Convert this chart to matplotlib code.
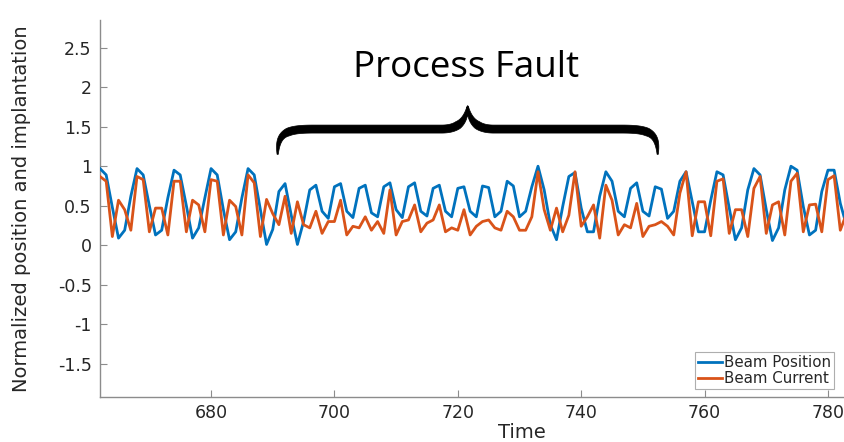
import numpy as np
import matplotlib
matplotlib.use("Agg")
import matplotlib.pyplot as plt
from matplotlib.patches import Polygon
from matplotlib.transforms import IdentityTransform

plt.rcParams['axes.unicode_minus'] = False

# ---------------- data ----------------
time = np.arange(662, 784)

beam_position = [
    0.97, 0.89, 0.48, 0.09, 0.19, 0.62,          # 662-667
    0.97, 0.89, 0.50, 0.13, 0.19, 0.60,          # 668-673
    0.95, 0.89, 0.50, 0.09, 0.22, 0.60,          # 674-679
    0.97, 0.89, 0.45, 0.07, 0.17, 0.60,          # 680-685
    0.97, 0.89, 0.45, 0.01, 0.20, 0.68,          # 686-691
    0.78, 0.38, 0.01, 0.30, 0.70, 0.76,          # 692-697
    0.43, 0.34, 0.74, 0.78, 0.43, 0.35,          # 698-703
    0.72, 0.76, 0.41, 0.36, 0.74, 0.79,          # 704-709
    0.45, 0.35, 0.74, 0.79, 0.43, 0.37,          # 710-715
    0.72, 0.76, 0.43, 0.36, 0.72, 0.74,          # 716-721
    0.43, 0.36, 0.75, 0.73, 0.36, 0.43,          # 722-727
    0.81, 0.75, 0.36, 0.43, 0.74, 1.00,          # 728-733
    0.70, 0.26, 0.07, 0.49, 0.87, 0.92,          # 734-739
    0.47, 0.17, 0.17, 0.62, 0.93, 0.81,          # 740-745
    0.43, 0.36, 0.72, 0.79, 0.43, 0.37,          # 746-751
    0.74, 0.71, 0.34, 0.43, 0.81, 0.93,          # 752-757
    0.55, 0.17, 0.17, 0.57, 0.93, 0.89,          # 758-763
    0.47, 0.07, 0.22, 0.70, 0.97, 0.89,          # 764-769
    0.45, 0.06, 0.22, 0.70, 1.00, 0.95,          # 770-775
    0.49, 0.13, 0.19, 0.68, 0.95, 0.95,          # 776-781
    0.53, 0.25,                                  # 782-783
]

beam_current = [
    0.87, 0.81, 0.11, 0.57, 0.45, 0.19,          # 662-667
    0.87, 0.83, 0.17, 0.47, 0.47, 0.13,          # 668-673
    0.81, 0.81, 0.17, 0.57, 0.51, 0.17,          # 674-679
    0.83, 0.81, 0.13, 0.57, 0.49, 0.13,          # 680-685
    0.89, 0.79, 0.11, 0.58, 0.40, 0.26,          # 686-691
    0.62, 0.15, 0.55, 0.26, 0.22, 0.43,          # 692-697
    0.15, 0.30, 0.30, 0.57, 0.13, 0.24,          # 698-703
    0.22, 0.36, 0.19, 0.30, 0.15, 0.70,          # 704-709
    0.13, 0.30, 0.32, 0.51, 0.17, 0.28,          # 710-715
    0.32, 0.51, 0.17, 0.22, 0.19, 0.45,          # 716-721
    0.13, 0.24, 0.30, 0.32, 0.22, 0.19,          # 722-727
    0.43, 0.36, 0.19, 0.19, 0.36, 0.93,          # 728-733
    0.45, 0.19, 0.47, 0.17, 0.38, 0.93,          # 734-739
    0.24, 0.36, 0.51, 0.09, 0.76, 0.57,          # 740-745
    0.13, 0.26, 0.22, 0.53, 0.11, 0.24,          # 746-751
    0.26, 0.30, 0.24, 0.13, 0.66, 0.93,          # 752-757
    0.12, 0.55, 0.55, 0.12, 0.81, 0.84,          # 758-763
    0.15, 0.45, 0.45, 0.11, 0.72, 0.87,          # 764-769
    0.15, 0.51, 0.55, 0.13, 0.81, 0.91,          # 770-775
    0.17, 0.51, 0.52, 0.17, 0.83, 0.88,          # 776-781
    0.19, 0.40,                                  # 782-783
]

x_ticks = [680, 700, 720, 740, 760, 780]
y_ticks = [-1.5, -1, -0.5, 0, 0.5, 1, 1.5, 2, 2.5]
y_tick_labels = ['-1.5', '-1', '-0.5', '0', '0.5', '1', '1.5', '2', '2.5']
series_names = ['Beam Position', 'Beam Current']
fault_start, fault_end = 690.8, 752.4
annotation_text = 'Process Fault'

# ---------------- figure ----------------
W, H, DPI = 844, 442, 100
fig = plt.figure(figsize=(W / DPI, H / DPI), dpi=DPI)
ax_left, ax_right, ax_top, ax_bottom = 100, 844, 20, 397
ax = fig.add_axes([ax_left / W, (H - ax_bottom) / H,
                   (ax_right - ax_left) / W, (ax_bottom - ax_top) / H])

blue = '#0072BD'
orange = '#D95319'
ax.plot(time, beam_position, color=blue, lw=2.0, label=series_names[0], zorder=3)
ax.plot(time, beam_current, color=orange, lw=2.0, label=series_names[1], zorder=3)

ax.set_xlim(662, 782.6)
ax.set_ylim(-1.92, 2.85)

ax.set_xticks(x_ticks)
ax.set_xticklabels([str(v) for v in x_ticks])
ax.set_yticks(y_ticks)
ax.set_yticklabels(y_tick_labels)

spine_col = '#8c8c8c'
for s in ['top', 'right']:
    ax.spines[s].set_visible(False)
for s in ['left', 'bottom']:
    ax.spines[s].set_color(spine_col)
    ax.spines[s].set_linewidth(1.0)
ax.tick_params(direction='in', length=5, width=0.8, color=spine_col,
               labelcolor='#262626', labelsize=12.5)
ax.tick_params(axis='y', pad=6)
ax.tick_params(axis='x', pad=5)

ax.set_ylabel('Normalized position and implantation', fontsize=14, color='#262626')
ax.yaxis.set_label_coords((22 - ax_left) / (ax_right - ax_left), 0.5)
ax.set_xlabel('Time', fontsize=14, color='#262626')
ax.xaxis.set_label_coords((522 - ax_left) / (ax_right - ax_left),
                          -(433 - ax_bottom) / (ax_bottom - ax_top))
ax.xaxis.label.set_va('center')
ax.yaxis.label.set_va('center')

leg = ax.legend(loc='lower right', bbox_to_anchor=(834 / W, (H - 389) / H),
                bbox_transform=fig.transFigure, fontsize=10.8, frameon=True,
                fancybox=False, borderaxespad=0, handlelength=1.6,
                handletextpad=0.15, borderpad=0.2, labelspacing=0.05)
leg.get_frame().set_edgecolor('#9a9a9a')
leg.get_frame().set_linewidth(0.8)
for t in leg.get_texts():
    t.set_color('#262626')

# ---------------- brace annotation ----------------
mid = 0.5 * (fault_start + fault_end)
y_end, y_bar, y_tip = 1.15, 1.47, 1.76
T = ax.transData
L = np.array(T.transform((fault_start, y_end)))
tip = np.array(T.transform((mid, y_tip)))
yb = T.transform((mid, y_bar))[1]


def bez(p0, p1, p2, p3, n=60):
    s = np.linspace(0, 1, n)[:, None]
    return ((1 - s) ** 3 * np.array(p0) + 3 * (1 - s) ** 2 * s * np.array(p1)
            + 3 * (1 - s) * s ** 2 * np.array(p2) + s ** 3 * np.array(p3))


xl, ye = L
xm, yt = tip
seg1 = bez((xl, ye), (xl, ye + 0.85 * (yb - ye)), (xl + 8, yb), (xl + 36, yb))
seg2 = np.column_stack([np.linspace(xl + 36, xm - 26, 80), np.full(80, yb)])
seg3 = bez((xm - 26, yb), (xm - 9, yb), (xm - 2, yb + 0.35 * (yt - yb)), (xm, yt))
half = np.vstack([seg1, seg2[1:], seg3[1:]])
d = np.sqrt((np.diff(half, axis=0) ** 2).sum(axis=1))
sarc = np.concatenate([[0], np.cumsum(d)])
sarc /= sarc[-1]
w = 1.2 + 6.8 * np.clip(sarc / 0.12, 0, 1) * np.clip((1 - sarc) / 0.10, 0, 1)
right = half[::-1].copy()
right[:, 0] = 2 * xm - right[:, 0]
center = np.vstack([half, right[1:]])
width = np.concatenate([w, w[::-1][1:]])
tx = np.gradient(center[:, 0])
ty = np.gradient(center[:, 1])
nrm = np.hypot(tx, ty)
nx, ny = -ty / nrm, tx / nrm
outer = np.column_stack([center[:, 0] + nx * width / 2, center[:, 1] + ny * width / 2])
inner = np.column_stack([center[:, 0] - nx * width / 2, center[:, 1] - ny * width / 2])
poly = Polygon(np.vstack([outer, inner[::-1]]), closed=True, facecolor='black',
               edgecolor='black', lw=0.5, transform=IdentityTransform(), zorder=4)
ax.add_artist(poly)

ax.text(mid - 0.3, 2.13, annotation_text, ha='center', va='baseline',
        fontsize=26.5, family=['Open Sans', 'DejaVu Sans'], color='black')

fig.savefig('out.png', dpi=DPI)
